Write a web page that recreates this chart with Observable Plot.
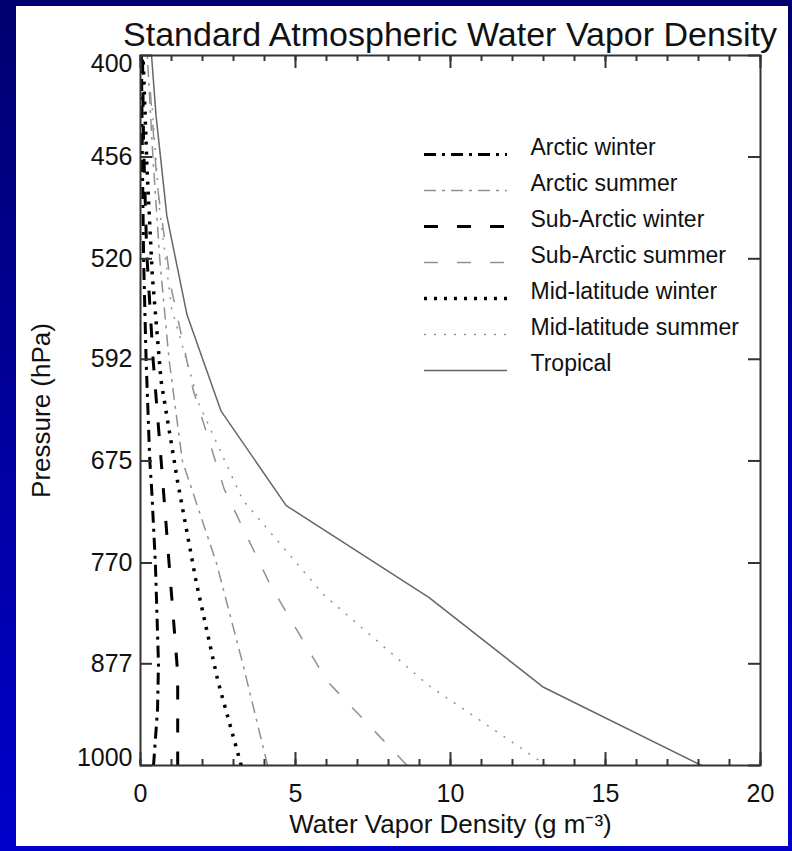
<!DOCTYPE html>
<html><head><meta charset="utf-8">
<script src="https://cdn.jsdelivr.net/npm/d3@7"></script>
<script src="https://cdn.jsdelivr.net/npm/@observablehq/plot@0.6"></script>
<style>
html,body{margin:0;padding:0;}
body{width:792px;height:851px;overflow:hidden;position:relative;background:linear-gradient(to bottom,#000070,#0000cc);font-family:"Liberation Sans",Arial,sans-serif;}
#panel{position:absolute;left:16px;top:6px;width:772px;height:840px;background:#fff;}
#title{position:absolute;left:100px;width:700px;top:17px;text-align:center;font-size:34px;line-height:34px;color:#111;white-space:nowrap;}
#chart{position:absolute;left:0;top:0;}
#axes{position:absolute;left:0;top:0;pointer-events:none;}
#legend{position:absolute;left:400px;top:100px;}
</style></head><body>
<div id="panel"></div>
<div id="title">Standard Atmospheric Water Vapor Density</div>
<div id="chart"></div>
<div id="legend"></div>
<div id="axes"></div>
<script>
// ---- data ----
const seriesNames = ["Arctic winter", "Arctic summer", "Sub-Arctic winter", "Sub-Arctic summer", "Mid-latitude winter", "Mid-latitude summer", "Tropical"];
const pressureTicks = [400, 456, 520, 592, 675, 770, 877, 1000];
const xMajorTicks = [0, 5, 10, 15, 20];
const xMinorTicks = [0, 1, 2, 3, 4, 5, 6, 7, 8, 9, 10, 11, 12, 13, 14, 15, 16, 17, 18, 19, 20];

const arcticWinterP = [1000, 930, 877, 770, 700, 675, 592, 520, 456, 400];
const arcticWinterV = [0.42, 0.55, 0.58, 0.48, 0.36, 0.30, 0.18, 0.10, 0.06, 0.03];
const arcticSummerP = [1000, 877, 770, 675, 592, 520, 456, 400];
const arcticSummerV = [4.1, 3.3, 2.45, 1.35, 0.92, 0.62, 0.40, 0.22];
const subArcticWinterP = [1000, 887.8, 777.5, 679.8, 593.2, 515.8, 446.7, 385.3];
const subArcticWinterV = [1.2, 1.2, 0.94, 0.68, 0.41, 0.20, 0.098, 0.054];
const subArcticSummerP = [1000, 896, 792.9, 700, 616, 541, 473, 413];
const subArcticSummerV = [8.6, 6.0, 4.2, 2.7, 1.7, 1.0, 0.54, 0.29];
const midLatWinterP = [1000, 897.3, 789.7, 693.8, 608.1, 531.3, 462.7, 401.6];
const midLatWinterV = [3.25, 2.5, 1.8, 1.2, 0.66, 0.38, 0.21, 0.085];
const midLatSummerP = [1000, 902, 802, 710, 628, 554, 487, 426];
const midLatSummerV = [13.1, 9.3, 5.9, 3.3, 1.9, 1.0, 0.61, 0.37];
const tropicalP = [1000, 904, 805, 715, 633, 559, 492, 432, 378];
const tropicalV = [18.1, 13.0, 9.3, 4.7, 2.6, 1.5, 0.85, 0.5, 0.25];

const xTitle = "Water Vapor Density (g m\u207B\u00B3)";
const yTitle = "Pressure (hPa)";

// ---- styles ----
const styles = [
  {stroke: "#000", strokeWidth: 3, dash: "12,6,3,6"},
  {stroke: "#909090", strokeWidth: 1.5, dash: "12,6,3,6"},
  {stroke: "#000", strokeWidth: 3, dash: "14,19"},
  {stroke: "#909090", strokeWidth: 1.5, dash: "14,19"},
  {stroke: "#000", strokeWidth: 3.5, dash: "3,7"},
  {stroke: "#909090", strokeWidth: 1.5, dash: "2,8"},
  {stroke: "#666", strokeWidth: 1.5, dash: null}
];
const profiles = [
  [arcticWinterP, arcticWinterV], [arcticSummerP, arcticSummerV],
  [subArcticWinterP, subArcticWinterV], [subArcticSummerP, subArcticSummerV],
  [midLatWinterP, midLatWinterV], [midLatSummerP, midLatSummerV],
  [tropicalP, tropicalV]
];
const FONT = "'Liberation Sans', Arial, sans-serif";
const ink = "#111";
const axisInk = "#333";

const W = 792, H = 851, ML = 140, MR = 32, MT = 55, MB = 86;
const frameW = W - ML - MR, frameH = H - MT - MB;
const makeBase = () => ({
  width: W, height: H,
  marginLeft: ML, marginRight: MR, marginTop: MT, marginBottom: MB,
  style: {background: "transparent", fontFamily: FONT, color: ink},
  x: {domain: [0, 20], axis: null},
  y: {type: "log", domain: [400, 1000], reverse: true, axis: null}
});

// frame and inward ticks (built first, shown on top)
const tickStyle = {stroke: axisInk, strokeWidth: 2};
const bottomTicks = (data, len) => Plot.ruleX(data, {x: d => d, insetTop: frameH - len, ...tickStyle});
const topTicks = (data, len) => Plot.ruleX(data, {x: d => d, insetBottom: frameH - len, ...tickStyle});
const leftTicks = (data, len) => Plot.ruleY(data, {y: d => d, insetRight: frameW - len, ...tickStyle});
const rightTicks = (data, len) => Plot.ruleY(data, {y: d => d, insetLeft: frameW - len, ...tickStyle});
const axes = Plot.plot({
  ...makeBase(),
  marks: [
    topTicks(xMinorTicks, 6),
    topTicks(xMajorTicks, 13),
    bottomTicks(xMinorTicks, 6),
    bottomTicks(xMajorTicks, 13),
    leftTicks(pressureTicks, 12),
    rightTicks(pressureTicks, 12),
    Plot.frame({stroke: axisInk, strokeWidth: 2})
  ]
});

const lineMarks = profiles.map(([P, V], i) => Plot.line(
  P.map((p, j) => ({p, v: V[j], name: seriesNames[i]})),
  {x: "v", y: "p", stroke: styles[i].stroke, strokeWidth: styles[i].strokeWidth,
   strokeDasharray: styles[i].dash, strokeLinecap: "butt", strokeLinejoin: "miter", clip: true}
));

const first = pressureTicks[0], last = pressureTicks[pressureTicks.length - 1];
const chart = Plot.plot({
  ...makeBase(),
  marks: [
    ...lineMarks,
    Plot.text(xMajorTicks.slice(), {x: d => d, text: d => String(d), frameAnchor: "bottom", dy: 28, fontSize: 25, textAnchor: "middle", lineAnchor: "middle", fill: ink}),
    Plot.text(pressureTicks.filter(d => d !== first && d !== last), {y: d => d, text: d => String(d), frameAnchor: "left", dx: -8, textAnchor: "end", lineAnchor: "middle", fontSize: 25, fill: ink}),
    Plot.text([first], {y: d => d, text: d => String(d), frameAnchor: "left", dx: -8, dy: 8, textAnchor: "end", lineAnchor: "middle", fontSize: 25, fill: ink}),
    Plot.text([last], {y: d => d, text: d => String(d), frameAnchor: "left", dx: -8, dy: -8, textAnchor: "end", lineAnchor: "middle", fontSize: 25, fill: ink}),
    Plot.text([xTitle], {frameAnchor: "bottom", dy: 67, textAnchor: "middle", lineAnchor: "bottom", fontSize: 26, fill: ink}),
    Plot.text([yTitle], {frameAnchor: "left", dx: -91, rotate: -90, textAnchor: "middle", lineAnchor: "bottom", fontSize: 26, fill: ink})
  ]
});

const legend = Plot.plot({
  width: 380, height: 320, margin: 0,
  style: {background: "transparent", fontFamily: FONT, color: ink},
  x: {domain: [0, 1], range: [24, 107], axis: null},
  y: {type: "point", domain: seriesNames, range: [33, 290], axis: null},
  marks: [
    ...seriesNames.map((n, i) => Plot.ruleY([n], {y: d => d, x1: 0, x2: 1, stroke: styles[i].stroke,
      strokeWidth: styles[i].strokeWidth, strokeDasharray: styles[i].dash, strokeLinecap: "butt"})),
    Plot.text(seriesNames, {x: 1, y: d => d, dx: 23, textAnchor: "start", lineAnchor: "bottom", fontSize: 23, fill: ink})
  ]
});

document.getElementById("chart").append(chart);
document.getElementById("legend").append(legend);
document.getElementById("axes").append(axes);
</script>
</body></html>
